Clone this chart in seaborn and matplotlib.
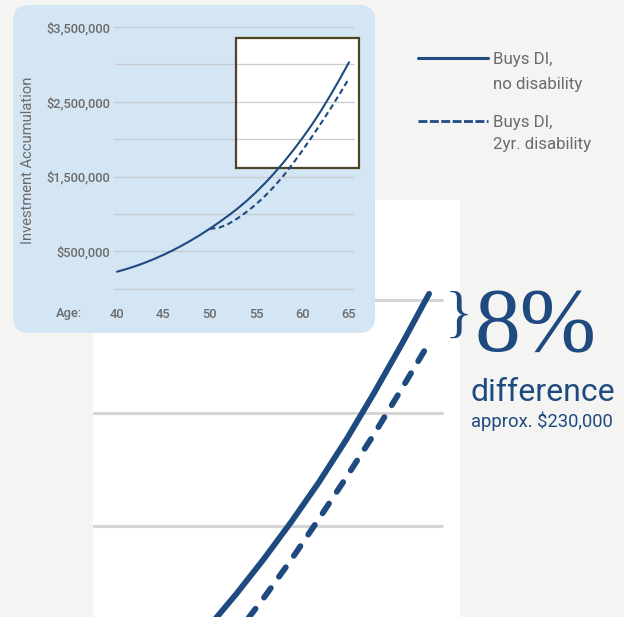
import matplotlib
matplotlib.use("Agg")
import matplotlib.pyplot as plt
import seaborn as sns
import pandas as pd
from matplotlib import font_manager
from matplotlib.patches import Rectangle, FancyBboxPatch
from matplotlib.lines import Line2D
from matplotlib.transforms import IdentityTransform

# Investment accumulation, in millions of dollars
ages = list(range(40, 66))
no_disability = [0.227, 0.262, 0.302, 0.347, 0.397, 0.452, 0.512, 0.577, 0.647, 0.722,
                 0.802, 0.887, 0.977, 1.072, 1.177, 1.292, 1.417, 1.552, 1.697, 1.852,
                 2.017, 2.192, 2.382, 2.587, 2.802, 3.027]
disability_ages = list(range(50, 66))
two_yr_disability = [0.80, 0.815, 0.865, 0.94, 1.03, 1.13, 1.245, 1.375, 1.52, 1.68,
                     1.85, 2.03, 2.215, 2.405, 2.605, 2.81]

grid_levels = [0, 0.5, 1.0, 1.5, 2.0, 2.5, 3.0, 3.5]
label_levels = [0.5, 1.5, 2.5, 3.5]
tick_ages = [40, 45, 50, 55, 60, 65]

# region of the small chart that is blown up in the big one
zoom_ages = (52.82, 66.11)
zoom_vals = (1.61, 3.35)
big_xlim = (52.82, 66.12)
big_ylim = (1.597, 3.442)
small_xlim = (39.68, 65.54)
grid_xmax = 65.5

series = ["Buys DI, no disability", "Buys DI, 2yr. disability"]
df = pd.concat([
    pd.DataFrame({"age": ages, "value": no_disability, "scenario": series[0]}),
    pd.DataFrame({"age": disability_ages, "value": two_yr_disability, "scenario": series[1]}),
])

BLUE = "#1e4a80"
GREY = "#6b6b6b"
PANEL = "#d4e5f3"
BG = "#f4f4f2"
BOX_EDGE = "#4e4423"

sns.set_style("white")
names = {f.name for f in font_manager.fontManager.ttflist}
SANS = "Roboto" if "Roboto" in names else "DejaVu Sans"
SERIF = "Liberation Serif" if "Liberation Serif" in names else "DejaVu Serif"
plt.rcParams["font.family"] = [SANS, "DejaVu Sans"]

W, H = 624, 617
fig = plt.figure(figsize=(W / 100, H / 100), dpi=100)
fig.patch.set_facecolor(BG)


def fx(px):
    return px / W


def fy(py):
    return 1 - py / H


def bare(axis):
    for s in axis.spines.values():
        s.set_visible(False)
    axis.set_xlabel("")
    axis.set_ylabel("")


# ---- big zoomed chart (white, behind the panel)
ax_big = fig.add_axes([fx(93), 0, fx(460) - fx(93), fy(200)], zorder=0)
ax_big.set_facecolor("white")
ax_big.hlines(grid_levels, small_xlim[0], grid_xmax, color="#d5d5d5", lw=2.2, zorder=1)
sns.lineplot(data=df, x="age", y="value", style="scenario", style_order=series,
             dashes={series[0]: "", series[1]: (2.0, 2.4)}, color=BLUE,
             linewidth=4.2, solid_capstyle="round", dash_capstyle="round",
             legend=False, ax=ax_big, zorder=2)
ax_big.set_xlim(*big_xlim)
ax_big.set_ylim(*big_ylim)
ax_big.set_xticks([])
ax_big.set_yticks([])
bare(ax_big)

# ---- light blue rounded panel
panel = FancyBboxPatch((13, H - 333), 362, 328, boxstyle="round,pad=0,rounding_size=16",
                       transform=IdentityTransform(), fc=PANEL, ec="none", zorder=1)
fig.add_artist(panel)

# ---- small chart
ax = fig.add_axes([fx(114), fy(288.7), 240 / W, 261.8 / H], zorder=2)
ax.set_facecolor("none")
ax.add_patch(Rectangle((zoom_ages[0], zoom_vals[0]), zoom_ages[1] - zoom_ages[0],
                       zoom_vals[1] - zoom_vals[0], fc="white", ec="none",
                       zorder=0.5, clip_on=False))
ax.hlines(grid_levels, small_xlim[0], small_xlim[1], color="#c8ccd1", lw=0.9,
          zorder=1, clip_on=False)
ax.add_patch(Rectangle((zoom_ages[0], zoom_vals[0]), zoom_ages[1] - zoom_ages[0],
                       zoom_vals[1] - zoom_vals[0], fc="none", ec=BOX_EDGE, lw=1.6,
                       zorder=1.5, clip_on=False))
sns.lineplot(data=df, x="age", y="value", style="scenario", style_order=series,
             dashes={series[0]: "", series[1]: (2.7, 1.7)}, color=BLUE,
             linewidth=1.5, legend=False, ax=ax, zorder=2)
ax.set_xlim(*small_xlim)
ax.set_ylim(0, 3.5)
bare(ax)
ax.set_xticks(tick_ages)
ax.set_xticklabels([str(a) for a in tick_ages])
ax.set_yticks(label_levels)
ax.set_yticklabels([f"${v * 1e6:,.0f}" for v in label_levels])
ax.tick_params(axis="y", length=0, pad=3, labelsize=9.3, labelcolor=GREY)
ax.tick_params(axis="x", length=0, pad=14, labelsize=9.3, labelcolor=GREY)
for lab in ax.get_xticklabels() + ax.get_yticklabels():
    lab.set_fontweight("medium")

fig.text(fx(69), fy(313), "Age:", ha="center", va="center", fontsize=9.3,
         fontweight="medium", color=GREY)
fig.text(fx(28), fy(160), "Investment Accumulation", rotation=90, ha="center",
         va="center", fontsize=10.6, color=GREY)

# ---- legend
handles = [Line2D([], [], color=BLUE, lw=2.2),
           Line2D([], [], color=BLUE, lw=2.0, dashes=(3.2, 0.9))]
fig.legend(handles, ["Buys DI,", "Buys DI,"], loc="upper left",
           bbox_to_anchor=(fx(418), fy(52)), frameon=False, borderpad=0,
           borderaxespad=0, handlelength=4.15, handletextpad=0.3,
           labelspacing=2.85, prop={"family": SANS, "size": 12.2},
           labelcolor=GREY)
fig.text(fx(493), fy(84), "no disability", ha="left", va="center", fontsize=12.2, color=GREY)
fig.text(fx(493), fy(145), "2yr. disability", ha="left", va="center", fontsize=12.2, color=GREY)

# ---- callout
fig.text(fx(459), fy(318), "}", ha="center", va="center", fontsize=42,
         family=SERIF, fontweight="light", color=BLUE)
fig.text(fx(475), fy(351), "8%", ha="left", va="baseline", fontsize=66,
         family=SERIF, color=BLUE)
fig.text(fx(471), fy(401), "difference", ha="left", va="baseline", fontsize=23,
         color=BLUE)
fig.text(fx(471), fy(427), "approx. $230,000", ha="left", va="baseline",
         fontsize=13.2, color=BLUE)

fig.savefig("out.png", dpi=100, facecolor=BG)
